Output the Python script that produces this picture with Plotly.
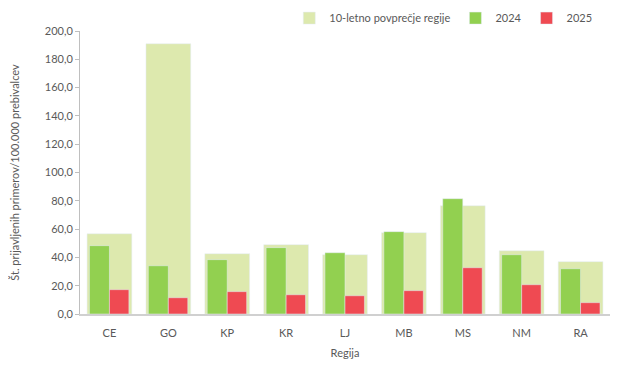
import plotly.graph_objects as go

regions = ["CE", "GO", "KP", "KR", "LJ", "MB", "MS", "NM", "RA"]
avg10 = [56.7, 191.0, 42.6, 49.0, 41.9, 57.5, 76.5, 44.7, 37.0]
y2024 = [48.3, 34.1, 38.4, 46.9, 43.3, 58.2, 81.5, 41.9, 32.0]
y2025 = [17.2, 11.5, 15.8, 13.6, 12.9, 16.5, 32.7, 20.7, 8.0]

font_fam = "Lato, 'Open Sans', sans-serif"
grey = "#595959"

fig = go.Figure()
fig.add_trace(go.Bar(x=regions, y=avg10, name="10-letno povprečje regije",
                     marker_color="#dde9ae", width=0.76, offset=-0.38))
fig.add_trace(go.Bar(x=regions, y=y2024, name="2024",
                     marker_color="#92d050", width=0.34, offset=-0.34))
fig.add_trace(go.Bar(x=regions, y=y2025, name="2025",
                     marker_color="#ef4a52", width=0.33, offset=0.0))

fig.update_layout(
    width=625, height=374,
    margin=dict(l=72, r=23, t=23, b=68, autoexpand=False),
    barmode="overlay",
    separators=",.",
    paper_bgcolor="white", plot_bgcolor="white",
    font=dict(family=font_fam, size=11, color=grey),
    showlegend=True,
    legend=dict(orientation="h", xref="paper", x=0.976, xanchor="right",
                yref="container", y=0.973, yanchor="middle",
                font=dict(size=11, color=grey), itemwidth=30,
                traceorder="normal", bgcolor="rgba(0,0,0,0)"),
    xaxis=dict(showline=True, linecolor="#d0d0d0", linewidth=1.5,
               ticks="outside", ticklen=8, tickcolor="rgba(0,0,0,0)",
               tickfont=dict(size=11, color=grey), automargin=False,
               title=dict(text="Regija", font=dict(size=11, color=grey), standoff=11)),
    yaxis=dict(range=[0, 200], dtick=20, tickformat=".1f", showgrid=False,
               showline=True, linecolor="#bfbfbf", linewidth=1, ticks="outside",
               ticklen=4, tickcolor="#bfbfbf", zeroline=False, automargin=False,
               tickfont=dict(size=11, color=grey),
               title=dict(text="Št. prijavljenih primerov/100.000 prebivalcev",
                          font=dict(size=11, color=grey), standoff=32)),
)

fig.write_html("out.html")
